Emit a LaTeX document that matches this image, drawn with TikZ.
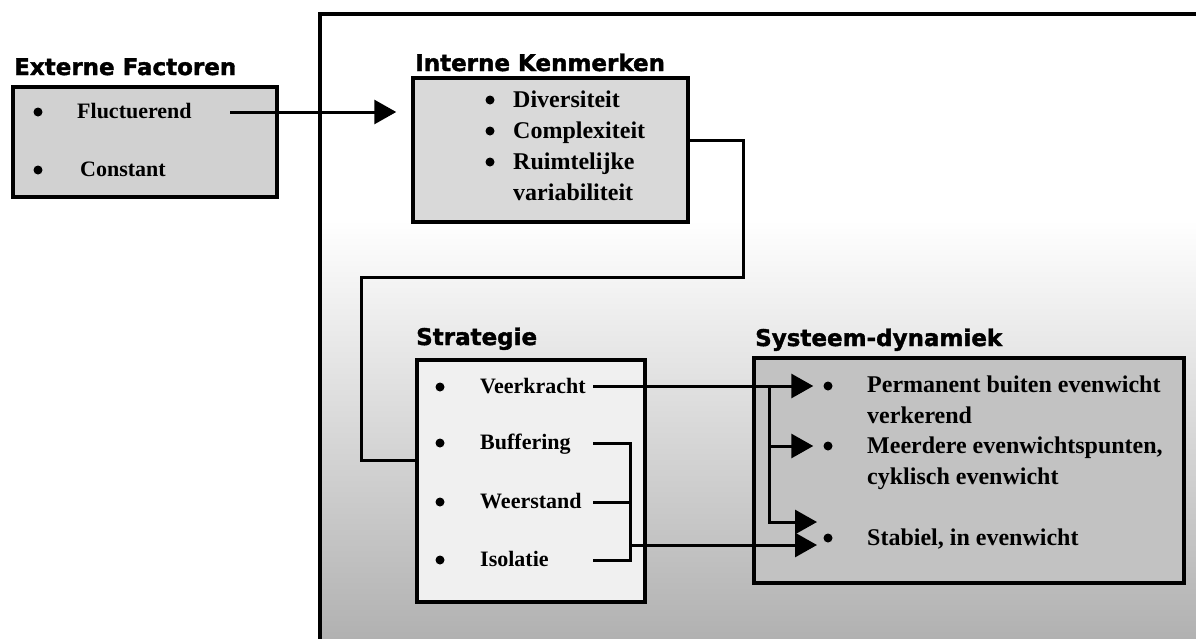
\documentclass[tikz,border=0pt]{standalone}
\usepackage{fontspec}
\setmainfont{Liberation Serif}
\newfontfamily\headfont{DejaVu Sans Bold}[FakeBold=1.6]
\usetikzlibrary{arrows.meta}

\definecolor{extfill}{gray}{0.82}
\definecolor{intfill}{gray}{0.85}
\definecolor{strfill}{gray}{0.94}
\definecolor{sysfill}{gray}{0.76}

\tikzset{
    box/.style={draw, line width=3.5pt, inner sep=0pt},
    ttl/.style={anchor=base west, inner sep=0pt, font=\headfont\fontsize{23}{27}\selectfont},
    itm/.style={anchor=base west, inner sep=0pt, font=\bfseries\fontsize{22}{26}\selectfont},
    itmbig/.style={itm, font=\bfseries\fontsize{24}{28}\selectfont},
    dot/.style={circle, fill, inner sep=0pt, minimum size=9pt},
    wire/.style={line width=3pt},
    conn/.style={wire, -{Triangle[length=22pt, width=24pt]}}
}

\begin{document}
\begin{tikzpicture}[x=1pt, y=-1pt]
    \useasboundingbox (0, 0) rectangle (1196, 638);
    \clip (0, 0) rectangle (1196, 638);
    \fill [white] (0, 0) rectangle (1196, 638);
    \shade [top color=white, middle color=gray!30, bottom color=gray!62] (320, 220) rectangle (1200, 645);
    \draw [line width=3.5pt] (320, 650) -- (320, 14) -- (1210, 14);

    \node [box, fill=extfill, minimum width=264pt, minimum height=110pt] (extbox) at (145, 142) {};
    \node [box, fill=intfill, minimum width=275pt, minimum height=144pt] (intbox) at (550.5, 150) {};
    \node [box, fill=strfill, minimum width=228pt, minimum height=242pt] (strbox) at (531, 481) {};
    \node [box, fill=sysfill, minimum width=430pt, minimum height=225pt] (sysbox) at (969, 470.5) {};

    \node [ttl] (extttl) at (14, 75) {Externe Factoren};
    \node [ttl] (intttl) at (415, 71) {Interne Kenmerken};
    \node [ttl] (strttl) at (416, 345) {Strategie};
    \node [ttl] (systtl) at (755, 346) {Systeem-dynamiek};

    \node [dot] (dfluct) at (38, 112) {};
    \node [itm] (fluct) at (77, 118) {Fluctuerend};
    \node [dot] (dconst) at (38, 170) {};
    \node [itm] (const) at (80, 176) {Constant};

    \node [dot] (ddiv) at (490, 100) {};
    \node [itmbig] (div) at (513, 107) {Diversiteit};
    \node [dot] (dcompl) at (490, 131) {};
    \node [itmbig] (compl) at (513, 138) {Complexiteit};
    \node [dot] (druim) at (490, 162) {};
    \node [itmbig] (ruim) at (513, 169) {Ruimtelijke};
    \node [itmbig] (ruimb) at (513, 200) {variabiliteit};

    \node [dot] (dveer) at (440, 387) {};
    \node [itm] (veer) at (480, 393) {Veerkracht};
    \node [dot] (dbuf) at (440, 443) {};
    \node [itm] (buf) at (480, 449) {Buffering};
    \node [dot] (dweer) at (440, 502) {};
    \node [itm] (weer) at (480, 508) {Weerstand};
    \node [dot] (diso) at (440, 560) {};
    \node [itm] (iso) at (480, 566) {Isolatie};

    \node [dot] (dperm) at (828, 386) {};
    \node [itmbig] (perm) at (867, 392) {Permanent buiten evenwicht};
    \node [itmbig] (permb) at (867, 423) {verkerend};
    \node [dot] (dmeer) at (828, 446) {};
    \node [itmbig] (meer) at (867, 453) {Meerdere evenwichtspunten,};
    \node [itmbig] (meerb) at (867, 484) {cyklisch evenwicht};
    \node [dot] (dstab) at (828, 538) {};
    \node [itmbig] (stab) at (867, 545) {Stabiel, in evenwicht};

    \coordinate (fluctout) at (230, 112);
    \draw [conn, shorten >=15pt] (fluctout) -- (fluctout -| intbox.west);

    \coordinate (bendA) at (743, 277);
    \coordinate (bendB) at (361, 460);
    \draw [wire] ([yshift=10pt]intbox.east) -| (bendA) -| (bendB) -- (bendB -| strbox.west);

    \coordinate (veerout) at (593, 386);
    \coordinate (split) at (769, 386);
    \coordinate (stabup) at (817, 522);
    \draw [conn, shorten >=10pt] (veerout) -- (dperm);
    \draw [conn, shorten >=10pt] (split |- dmeer) -- (dmeer);
    \draw [conn] (split) |- (stabup);

    \coordinate (bufout) at (593, 443);
    \coordinate (weerout) at (593, 502);
    \coordinate (isoout) at (593, 560);
    \coordinate (brtop) at (630, 443);
    \coordinate (brbot) at (630, 560);
    \coordinate (stablow) at (817, 545);
    \draw [wire] (bufout) -- (brtop) -- (brbot) -- (isoout);
    \draw [wire] (weerout) -- (weerout -| brtop);
    \draw [conn] (brtop |- stablow) -- (stablow);
\end{tikzpicture}
\end{document}
